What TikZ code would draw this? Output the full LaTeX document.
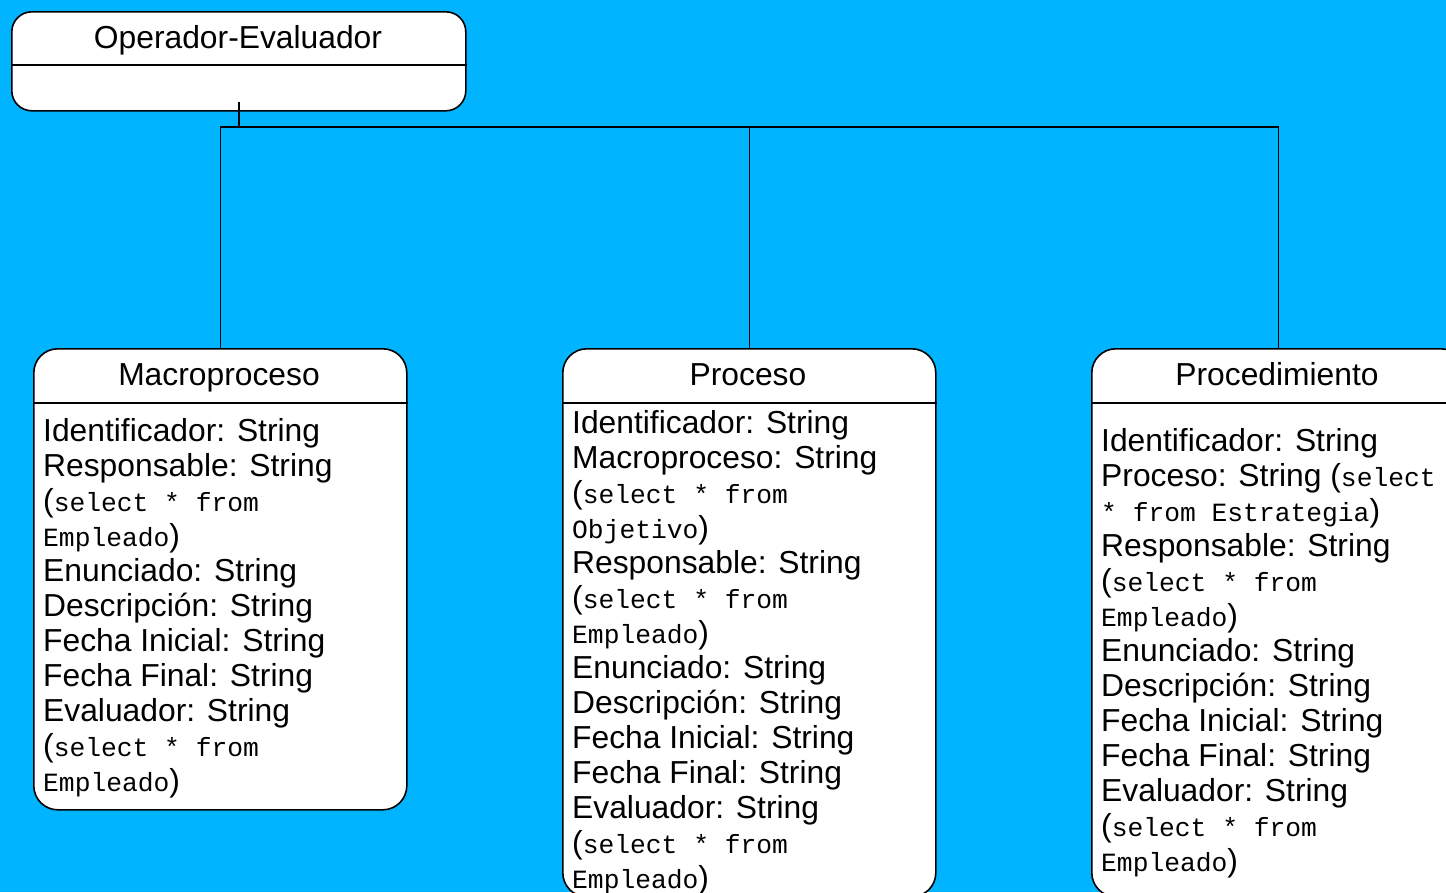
\documentclass[tikz,border=0pt]{standalone}
\usepackage{fontspec}
\setmainfont{Liberation Sans}
\newfontfamily\sqlfont{Liberation Mono}
\usepackage{xcolor}
\usepackage{tikz}
\definecolor{SKY}{HTML}{00B4FF}
\definecolor{INK}{HTML}{000000}
\newcommand{\sqltxt}[1]{{\sqlfont\fontsize{26.3}{35}\selectfont #1}}

\begin{document}
\begin{tikzpicture}[
    x=1pt, y=-1pt,
    classbox/.style={draw=INK, fill=white, line width=1.6pt, rounded corners=24pt,
      anchor=north west, inner sep=0pt},
    divider/.style={draw=INK, line width=1.6pt},
    link/.style={draw=INK, line width=1.6pt},
    classname/.style={font=\fontsize{31.8}{35}\selectfont, text=INK, inner sep=0pt,
      anchor=base},
    attrs/.style={font=\fontsize{31.8}{35}\selectfont, text=INK, align=left,
      anchor=north west, inner sep=0pt},
  ]

  % background
  \useasboundingbox (0,0) rectangle (1446,892);
  \clip (0,0) rectangle (1446,892);
  \fill[SKY] (0,0) rectangle (1446,892);

  % class boxes
  \node[classbox, minimum width=454pt, minimum height=99pt, rounded corners=20pt] (operador) at (11,11) {};
  \node[classbox, minimum width=373pt, minimum height=461pt] (macro) at (33,348) {};
  \node[classbox, minimum width=373pt, minimum height=548pt] (proceso) at (562,348) {};
  \node[classbox, minimum width=373pt, minimum height=548pt] (proced) at (1091,348) {};

  % compartments
  \draw[divider] (operador.west |- 0,65) -- (operador.east |- 0,65);
  \draw[divider] (macro.west |- 0,403) -- (macro.east |- 0,403);
  \draw[divider] (proceso.west |- 0,403) -- (proceso.east |- 0,403);
  \draw[divider] (proced.west |- 0,403) -- (proced.east |- 0,403);

  % names
  \node[classname] (operadorname) at (238,48) {Operador-Evaluador};
  \node[classname] (macroname) at (219,385) {Macroproceso};
  \node[classname] (procesoname) at (748,385) {Proceso};
  \node[classname] (procedname) at (1277,385) {Procedimiento};

  % attributes
  \node[attrs] (macroattrs) at (43,418) {Identificador: String\\
    Responsable: String\\
    (\sqltxt{select * from}\\
    \sqltxt{Empleado})\\
    Enunciado: String\\
    Descripción: String\\
    Fecha Inicial: String\\
    Fecha Final: String\\
    Evaluador: String\\
    (\sqltxt{select * from}\\
    \sqltxt{Empleado})};
  \node[attrs] (procesoattrs) at (572,410) {Identificador: String\\
    Macroproceso: String\\
    (\sqltxt{select * from}\\
    \sqltxt{Objetivo})\\
    Responsable: String\\
    (\sqltxt{select * from}\\
    \sqltxt{Empleado})\\
    Enunciado: String\\
    Descripción: String\\
    Fecha Inicial: String\\
    Fecha Final: String\\
    Evaluador: String\\
    (\sqltxt{select * from}\\
    \sqltxt{Empleado})};
  \node[attrs] (procedattrs) at (1101,428) {Identificador: String\\
    Proceso: String (\sqltxt{select}\\
    \sqltxt{* from Estrategia})\\
    Responsable: String\\
    (\sqltxt{select * from}\\
    \sqltxt{Empleado})\\
    Enunciado: String\\
    Descripción: String\\
    Fecha Inicial: String\\
    Fecha Final: String\\
    Evaluador: String\\
    (\sqltxt{select * from}\\
    \sqltxt{Empleado})};

  % generalisation tree
  \coordinate (bus) at (238,127);
  \draw[link] ([yshift=10pt]operador.south) -- (operador.south |- bus);
  \draw[link] (macro.north) -- (macro.north |- bus) -- (proced.north |- bus) -- (proced.north);
  \draw[link] (proceso.north) -- (proceso.north |- bus);

\end{tikzpicture}
\end{document}
